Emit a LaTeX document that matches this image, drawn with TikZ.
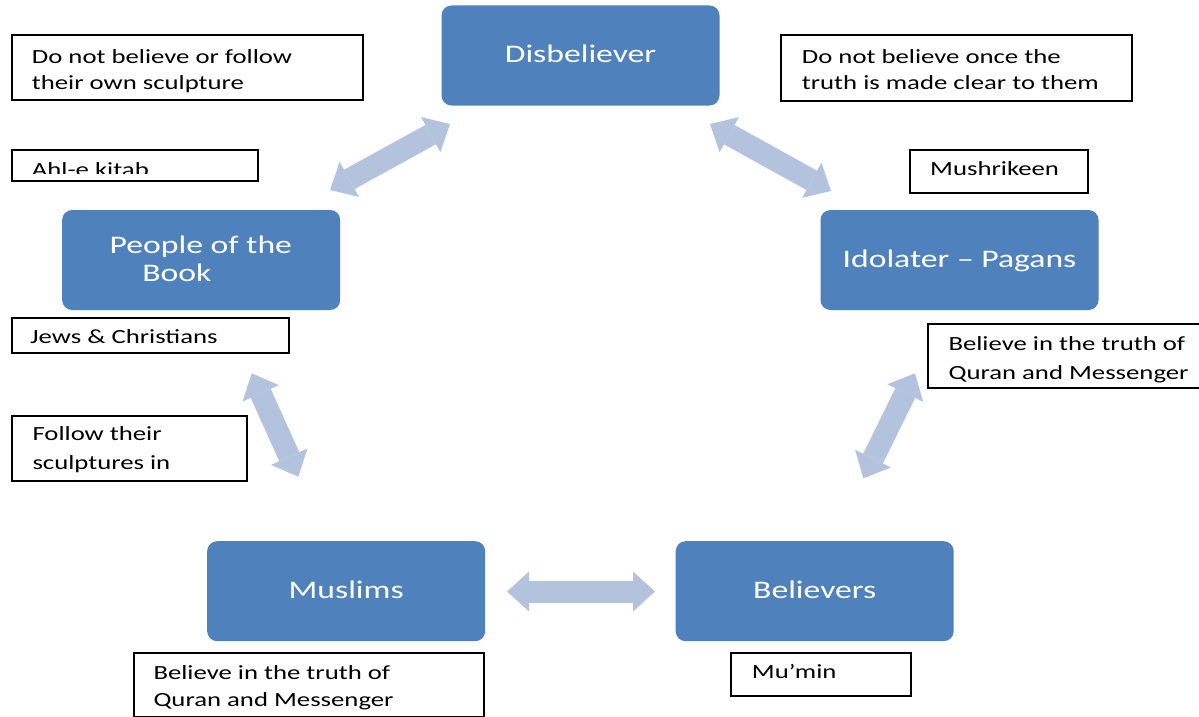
\documentclass[tikz,border=0pt]{standalone}
\usepackage{fontspec}
\newfontfamily\calfont[FakeStretch=1.33]{Carlito}
\usetikzlibrary{arrows.meta,calc}
\definecolor{boxblue}{RGB}{79,129,189}
\definecolor{arrowblue}{RGB}{179,195,222}
\newcommand{\twolines}[4]{\parbox[t]{#1}{\baselineskip=#2 #3\\#4}}
\begin{document}
\begin{tikzpicture}[x=1pt,y=-1pt,
  bluebox/.style={fill=boxblue, rounded corners=10pt, inner sep=0pt, text=white,
    font=\calfont\fontsize{25.3}{27.7}\selectfont, text height=16pt, text depth=1.5pt,
    minimum width=278pt, minimum height=100pt},
  wbox/.style={draw=black, line width=2pt, anchor=north west, inner sep=0pt},
  wtext/.style={anchor=base west, inner sep=0pt, font=\calfont\fontsize{20.1}{27}\selectfont},
  dbl/.style={line width=22pt, draw=arrowblue,
    {Triangle[length=22pt,width=40pt,line width=0pt]}-{Triangle[length=22pt,width=40pt,line width=0pt]}}
]
\useasboundingbox (0,0) rectangle (1199,717);
\clip (0,0) rectangle (1199,717);
\fill[white] (0,0) rectangle (1199,717);

% blue boxes
\node[bluebox] (dis) at (580.5,55.5) {Disbeliever};
\node[bluebox, text depth=29.2pt] (people) at (201.2,260)
  {\parbox[t]{183pt}{People of the\\\hspace*{32.7pt}Book}};
\node[bluebox] (idol) at (959.5,260) {Idolater – Pagans};
\node[bluebox] (muslims) at (346.2,591.2) {Muslims};
\node[bluebox] (believers) at (814.7,591.2) {Believers};

% white boxes
\node[wbox, minimum width=351pt, minimum height=65pt] (b1) at (11,34) {};
\node[wtext] (t1) at (31.7,63.3) {\twolines{320pt}{26.7pt}{Do not believe or follow}{their own sculpture}};

\node[wbox, minimum width=351pt, minimum height=66pt] (b2) at (780,34) {};
\node[wtext] (t2) at (801.7,63.3) {\twolines{320pt}{26.7pt}{Do not believe once the}{truth is made clear to them}};

\node[wbox, minimum width=246pt, minimum height=31pt] (ahl) at (11,149) {};
\begin{scope}
  \clip (12,150) rectangle (256,173.3);
  \node[wtext] (tahl) at (31.7,176) {Ahl-e kitab};
\end{scope}

\node[wbox, minimum width=178pt, minimum height=43pt] (mush) at (909,149) {};
\node[wtext] (tmush) at (930,175) {Mushrikeen};

\node[wbox, minimum width=277pt, minimum height=34.5pt] (jews) at (11,317) {};
\node[wtext] (tjews) at (30,343.3) {Jews \& Christians};

\node[wbox, minimum width=234.7pt, minimum height=65pt] (follow) at (11,415) {};
\node[wtext] (tfollow) at (32.3,440.7) {\twolines{200pt}{28.6pt}{Follow their}{sculptures in}};

\node[wbox, minimum width=280pt, minimum height=63.4pt] (rb) at (927,323.3) {};
\node[wtext] (trb) at (948.3,350.7) {\twolines{245pt}{28.6pt}{Believe in the truth of}{Quran and Messenger}};

\node[wbox, minimum width=350.6pt, minimum height=64.5pt] (lb) at (132.7,651.7) {};
\node[wtext] (tlb) at (153.3,679.3) {\twolines{320pt}{27.4pt}{Believe in the truth of}{Quran and Messenger}};

\node[wbox, minimum width=180pt, minimum height=43.3pt] (mumin) at (730,651.7) {};
\node[wtext] (tmumin) at (751.7,678.3) {Mu’min};

% double arrows
\coordinate (tlA) at (450,124);
\coordinate (tlB) at (330,190);
\coordinate (trA) at (710,124);
\coordinate (trB) at (831,191);
\coordinate (lA) at (251.7,373.3);
\coordinate (lB) at (298.3,476.7);
\coordinate (rA) at (915,373.3);
\coordinate (rB) at (863.3,478.3);
\coordinate (bA) at (507,591.5);
\coordinate (bB) at (655,591.5);
\draw[dbl] (tlA) -- (tlB);
\draw[dbl] (trA) -- (trB);
\draw[dbl] (lA) -- (lB);
\draw[dbl] (rA) -- (rB);
\draw[dbl] (bA) -- (bB);
\end{tikzpicture}
\end{document}
